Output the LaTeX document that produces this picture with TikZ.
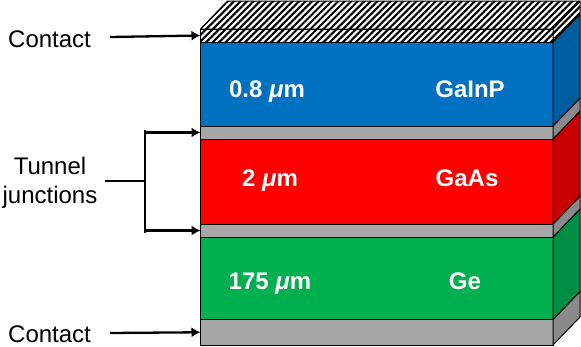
\documentclass[tikz,border=0pt]{standalone}
\usepackage{fontspec}
\setmainfont{Liberation Sans}
\usetikzlibrary{patterns.meta,arrows.meta}
\definecolor{blueF}{HTML}{0070C0}
\definecolor{blueS}{HTML}{005DA0}
\definecolor{redF}{HTML}{FF0000}
\definecolor{redS}{HTML}{C80000}
\definecolor{greenF}{HTML}{00B050}
\definecolor{greenS}{HTML}{008E44}
\definecolor{grayF}{HTML}{A6A6A6}
\definecolor{grayS}{HTML}{8A8A8A}
\tikzset{
  layer/.style={draw=black, line width=1pt, minimum width=352.5pt, inner sep=0pt, outer sep=0pt, anchor=north west},
  hatch/.style={preaction={fill=white}, pattern={Lines[angle=45,distance=4.6pt,line width=2.1pt]}, pattern color=black},
  lbl/.style={text=white, font=\bfseries\fontsize{24}{28}\selectfont, anchor=base, inner sep=0pt},
  side/.style={draw=black, line width=1pt, line join=round},
  txt/.style={font=\fontsize{24}{29}\selectfont, inner sep=0pt},
  arr/.style={line width=2.3pt, -{Latex[length=9pt,width=10pt]}},
  brk/.style={line width=2.3pt}
}
\newcommand{\sideface}[2]{%
  \path[side, #2] (#1.north east) -- (#1.south east) -- ([shift={(27,-28)}]#1.south east) -- ([shift={(27,-28)}]#1.north east) -- cycle;}
\begin{document}
\begin{tikzpicture}[x=1pt,y=-1pt]
\useasboundingbox (0,0) rectangle (581,346);
% front faces
\node[layer, hatch, minimum height=13pt] (ctop) at (200.5,29) {};
\node[layer, fill=blueF, minimum height=84pt] (gainp) at (200.5,42) {};
\node[layer, fill=grayF, minimum height=13pt] (tjA) at (200.5,126) {};
\node[layer, fill=redF, minimum height=85pt] (gaas) at (200.5,139) {};
\node[layer, fill=grayF, minimum height=13pt] (tjB) at (200.5,224) {};
\node[layer, fill=greenF, minimum height=82.5pt] (ge) at (200.5,237) {};
\node[layer, fill=grayF, minimum height=25.5pt] (cbot) at (200.5,319.5) {};
% side faces
\sideface{cbot}{fill=grayS}
\sideface{ge}{fill=greenS}
\sideface{tjB}{fill=grayS}
\sideface{gaas}{fill=redS}
\sideface{tjA}{fill=grayS}
\sideface{gainp}{fill=blueS}
\sideface{ctop}{hatch}
% top face
\path[side, hatch] (ctop.north west) -- (ctop.north east) -- ([shift={(27,-28)}]ctop.north east) -- ([shift={(27,-28)}]ctop.north west) -- cycle;
% layer labels
\node[lbl] (l1) at (267,97) {0.8 \textit{μ}m};
\node[lbl] (n1) at (470,97) {GaInP};
\node[lbl] (l2) at (270,186) {2 \textit{μ}m};
\node[lbl] (n2) at (467,186) {GaAs};
\node[lbl] (l3) at (270,289) {175 \textit{μ}m};
\node[lbl] (n3) at (465,289) {Ge};
% left labels
\node[txt, anchor=base west] (ct) at (8,47) {Contact};
\node[txt, anchor=base west] (cb) at (8,342) {Contact};
\node[txt, align=center, anchor=base] (tj) at (50,203) {Tunnel\\junctions};
% arrows
\coordinate (ctS) at (110,37);
\coordinate (cbS) at (110,333);
\draw[arr] (ctS) -- (ctop.west);
\draw[arr] (cbS) -- (cbot.west);
\coordinate (bk) at (145,181);
\coordinate (bkS) at (105,181);
\draw[brk] (bkS) -- (bk);
\draw[arr] (bk |- tjA.west) -- (tjA.west);
\draw[arr] (bk |- tjB.west) -- (tjB.west);
\draw[brk, line cap=rect] ([yshift=1.15pt]bk |- tjA.west) -- ([yshift=-1.15pt]bk |- tjB.west);
\end{tikzpicture}
\end{document}
